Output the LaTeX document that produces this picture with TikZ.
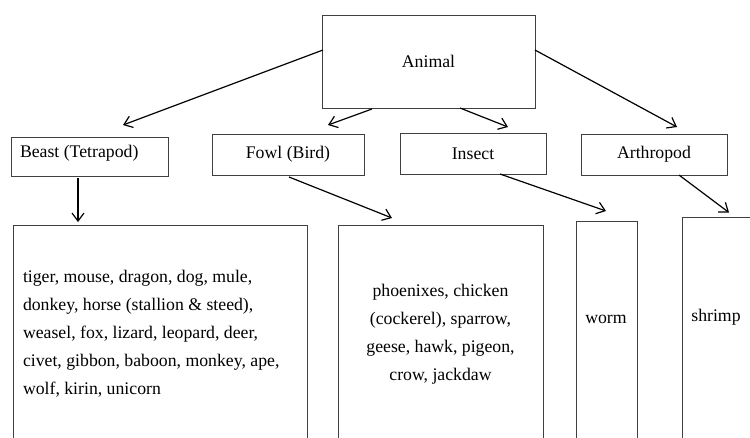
\documentclass[tikz,border=0pt]{standalone}
\usepackage{fontspec}
\setmainfont{Liberation Serif}
\usepackage{tikz}
\usetikzlibrary{positioning}
\usetikzlibrary{calc}
\usetikzlibrary{arrows.meta}

\begin{document}
\begin{tikzpicture}[
x=0.75pt, y=-0.75pt,
font=\fontsize{13.3}{21}\selectfont,
boxnode/.style={
    rectangle,
    draw=black!75,
    line width=0.75pt,
    inner sep=0pt, % No inner spacing
    outer sep=0pt, % No outer spacing
},
leftbox/.style={
    boxnode,
    align=left,
    execute at begin node={\spaceskip=0pt\xspaceskip=0pt\relax},
},
arrowline/.style={
    -{Straight Barb[length=6pt,width=9pt]},
    line width=0.9pt,
    black,
},
]

\useasboundingbox (0,0) rectangle (750,437);
\clip (0,0) rectangle (750,437);

\node[boxnode, minimum width=159.75pt, minimum height=69.75pt] (animal) at (428.5,61.5) {Animal};

\node[leftbox, minimum height=29.25pt, text width=104.25pt, text depth=8pt, inner xsep=6.75pt] (beast) at (89.5,156.5) {Beast (Tetrapod)};
\node[boxnode, minimum width=114pt, minimum height=30.75pt] (fowl) at (288,154.5) {Fowl (Bird)};
\node[boxnode, minimum width=109.5pt, minimum height=30.75pt] (insect) at (473,153.5) {Insect};
\node[boxnode, minimum width=109.5pt, minimum height=30.75pt] (arthro) at (654,154.5) {Arthropod};

\node[leftbox, minimum height=163.5pt, text width=205.5pt, inner xsep=7.5pt] (beastlist) at (160,334)
    {tiger, mouse, dragon, dog, mule,\\ donkey, horse (stallion \& steed),\\ weasel, fox, lizard, leopard, deer,\\ civet, gibbon, baboon, monkey, ape,\\ wolf, kirin, unicorn};
\node[boxnode, minimum width=153.75pt, minimum height=163.5pt, align=center] (fowllist) at (440.5,334)
    {phoenixes, chicken\\ (cockerel), sparrow,\\ geese, hawk, pigeon,\\ crow, jackdaw};
\node[boxnode, minimum width=45.75pt, minimum height=179.25pt] (wormbox) at (606.5,340.5) {};
\node (worm) at (606,319) {worm};
\node[boxnode, minimum width=88.5pt, minimum height=181.5pt] (shrimpbox) at (741,338.5) {};
\node (shrimp) at (716,317) {shrimp};

\draw[arrowline] ($(animal.west) + (1,-11.5)$) -- ($(beast.north) + (33.5,-12)$);
\draw[arrowline] ($(animal.south) + (-56.5,1)$) -- ($(fowl.north) + (40,-9)$);
\draw[arrowline] ($(animal.south) + (31.5,0)$) -- ($(insect.north) + (35,-6)$);
\draw[arrowline] ($(animal.east) + (0,-11.5)$) -- ($(arthro.north) + (23,-7)$);

\draw[arrowline] ($(beast.south) + (-11.5,2)$) -- ($(beastlist.north) + (-82,-3)$);
\draw[arrowline] ($(fowl.south) + (1,2)$) -- ($(fowllist.north) + (-48.5,-7)$);
\draw[arrowline] ($(insect.south) + (27,0)$) -- ($(wormbox.north) + (-0.5,-10)$);
\draw[arrowline] ($(arthro.south) + (25,0)$) -- ($(shrimpbox.north) + (-12,-5)$);

\end{tikzpicture}
\end{document}
